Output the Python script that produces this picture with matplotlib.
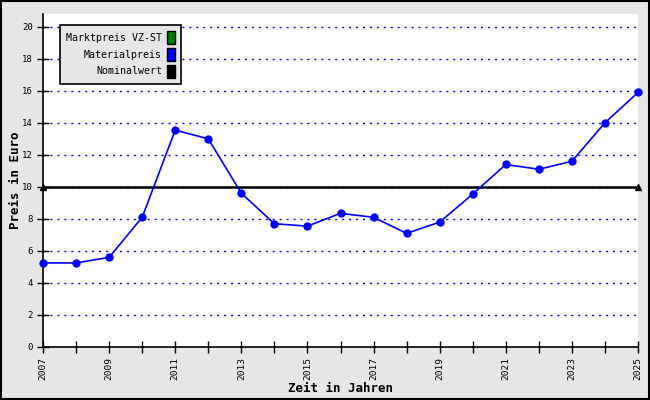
import numpy as np
import matplotlib.pyplot as plt
from matplotlib.patches import Patch, Rectangle

years = list(range(2007, 2026))
materialpreis = [5.25, 5.25, 5.6, 8.1, 13.55, 13.0, 9.6, 7.7, 7.55, 8.35,
                 8.1, 7.1, 7.8, 9.55, 11.4, 11.1, 11.6, 14.0, 15.9]
nominalwert = 10
legend_labels = ['Marktpreis VZ-ST', 'Materialpreis', 'Nominalwert']
legend_colors = ['#008000', '#0000ff', '#000000']

plt.rcParams['font.family'] = 'DejaVu Sans Mono'

fig = plt.figure(figsize=(6.5, 4), dpi=100)
fig.patch.set_facecolor('#e6e6e6')
fig.patches.append(Rectangle((0.001, 0.002), 0.997, 0.995, transform=fig.transFigure,
                             fill=False, edgecolor='black', linewidth=1.5))
ax = fig.add_axes([0.0662, 0.1325, 0.9153, 0.8325])
ax.set_facecolor('white')

for y in range(2, 21, 2):
    ax.axhline(y, color='#0000ff', linestyle=(0, (1.5, 3.5)), linewidth=1.0, zorder=1)

ax.plot([years[0], years[-1]], [nominalwert, nominalwert], color='black', linewidth=1.8,
        marker='^', markersize=5, zorder=2, clip_on=False)
ax.plot(years, materialpreis, color='#0000ff', linewidth=1.2, marker='o', markersize=5,
        zorder=3, clip_on=False)

ax.set_xlim(2007, 2025)
ax.set_ylim(0, 20.8)
ax.set_xticks(years[::2])
ax.set_xticks(years[1::2], minor=True)
ax.set_xticklabels([str(y) for y in years[::2]], rotation=90, fontsize=6.8)
ax.set_yticks(range(0, 21, 2))
ax.set_yticklabels([str(v) for v in range(0, 21, 2)], fontsize=6.5)
ax.tick_params(axis='both', which='both', direction='inout', length=8, width=1)

for s in ['top', 'right']:
    ax.spines[s].set_visible(False)
for s in ['left', 'bottom']:
    ax.spines[s].set_linewidth(1.2)

ax.set_xlabel('Zeit in Jahren', fontsize=9, fontweight='bold')
ax.set_ylabel('Preis in Euro', fontsize=9, fontweight='bold')
ax.xaxis.set_label_coords(0.5, -0.105)
ax.yaxis.set_label_coords(-0.036, 0.5)

handles = [Patch(facecolor=c, edgecolor='black') for c in legend_colors]
leg = ax.legend(handles, legend_labels, loc='upper left', bbox_to_anchor=(0.02, 0.982),
                markerfirst=False, fontsize=7.2, fancybox=False, framealpha=1,
                facecolor='#e6e6e6', edgecolor='black', handlelength=0.8, handleheight=1.6,
                handletextpad=0.5, labelspacing=0.4, borderpad=0.6)
leg.get_frame().set_linewidth(1.2)
for t in leg.get_texts():
    t.set_ha('right')
leg._legend_box.align = 'right'

fig.savefig('out.png', dpi=100, facecolor=fig.get_facecolor())
